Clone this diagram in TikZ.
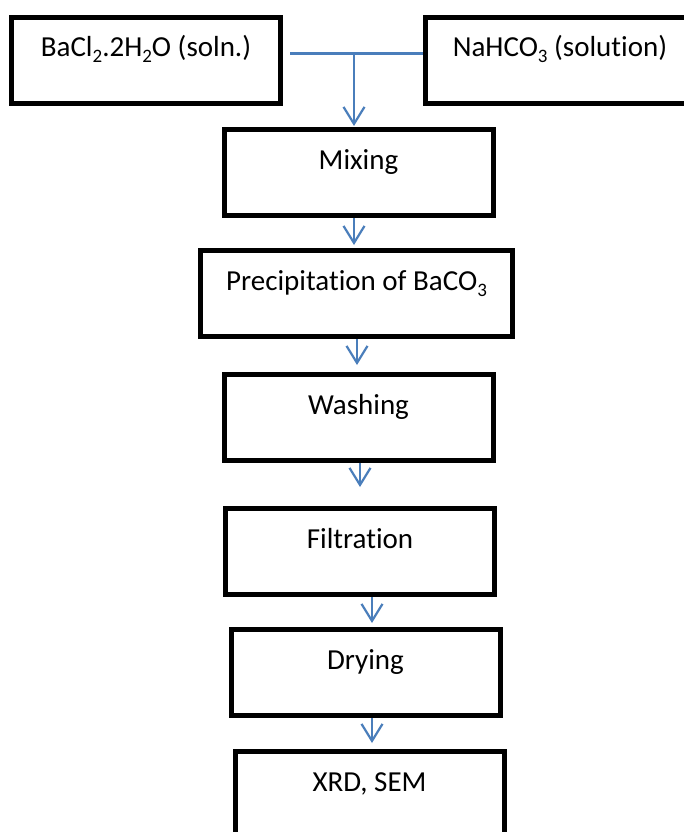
\documentclass[tikz,border=0pt]{standalone}
\usepackage{fontspec}
\setmainfont[Ligatures=NoCommon]{Carlito}
\usetikzlibrary{arrows.meta}
\definecolor{flowblue}{HTML}{4A7EBB}
\newcommand{\chsub}[1]{\raisebox{-6pt}{\fontsize{19}{19}\selectfont #1}}
\tikzset{
  box/.style={draw=black, line width=5pt, minimum width=269pt, inner xsep=0pt,
    inner ysep=19.5pt, text height=20pt, text depth=27pt,
    font=\fontsize{29}{35}\selectfont, anchor=center},
  flow/.style={draw=flowblue, line width=2.2pt},
  arr/.style={flow, -{Straight Barb[length=17pt,width=21pt]}}
}
\begin{document}
\begin{tikzpicture}[x=1pt,y=-1pt]
\useasboundingbox (0,0) rectangle (684,832);
\clip (0,0) rectangle (684,832);
\fill[white] (0,0) rectangle (684,832);
\node[box] (lbox) at (146,60.5) {BaCl\chsub{2}.2H\chsub{2}O (soln.)};
\node[box] (rbox) at (560,60.5) {NaHCO\chsub{3} (solution)};
\node[box] (mix) at (358.5,172.5) {Mixing};
\node[box, minimum width=312pt] (pre) at (356.5,293.5) {Precipitation of BaCO\chsub{3}};
\node[box] (wash) at (358.5,417.5) {Washing};
\node[box] (filt) at (360,551.5) {Filtration};
\node[box] (dry) at (365.5,672.5) {Drying};
\node[box] (xrd) at (369.5,794.5) {XRD, SEM};
\coordinate (j) at (354,53.5);
\draw[flow, shorten <=7pt] (lbox.east |- j) -- (rbox.west |- j);
\draw[arr, shorten >=1pt] (j) -- (mix.north -| j);
\coordinate (c1) at (354,0);
\coordinate (c2) at (357,0);
\coordinate (c3) at (360,0);
\coordinate (c4) at (372,0);
\draw[arr, shorten >=3pt] (mix.south -| c1) -- (pre.north -| c1);
\draw[arr, shorten >=7pt] (pre.south -| c2) -- (wash.north -| c2);
\draw[arr, shorten >=19pt] (wash.south -| c3) -- (filt.north -| c3);
\draw[arr, shorten >=4pt] (filt.south -| c4) -- (dry.north -| c4);
\draw[arr, shorten >=6pt] (dry.south -| c4) -- (xrd.north -| c4);
\end{tikzpicture}
\end{document}
